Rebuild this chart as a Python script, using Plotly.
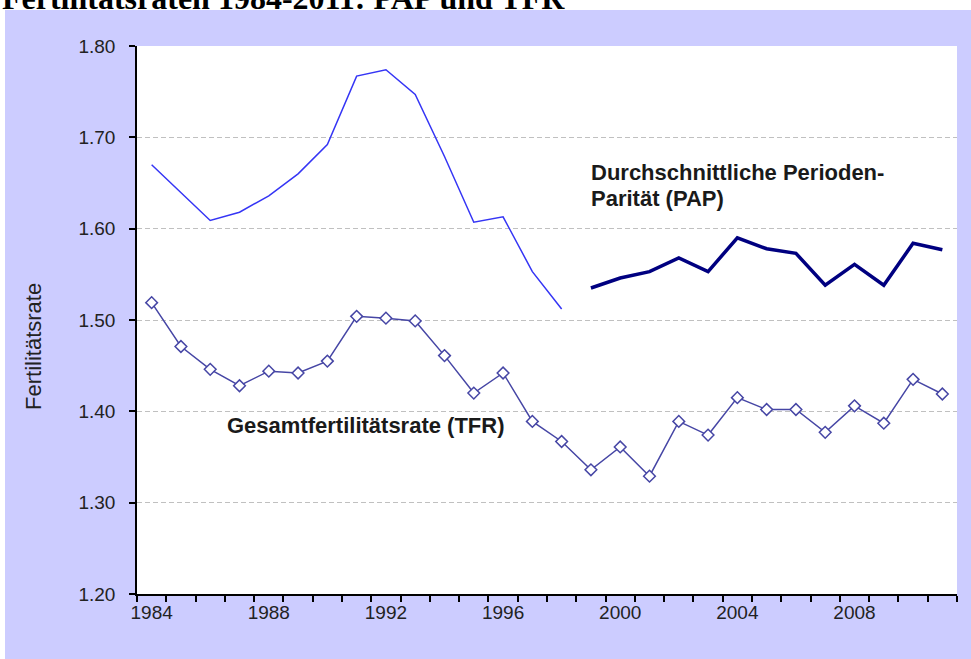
import plotly.graph_objects as go

# Werte
years = list(range(1984, 2012))
tfr = [1.519, 1.471, 1.446, 1.428, 1.444, 1.442, 1.455, 1.504, 1.502, 1.499,
       1.461, 1.420, 1.442, 1.389, 1.367, 1.336, 1.361, 1.329, 1.389, 1.374,
       1.415, 1.402, 1.402, 1.377, 1.406, 1.387, 1.435, 1.419]

upper_years = list(range(1984, 1999))
upper = [1.670, 1.639, 1.609, 1.618, 1.636, 1.660, 1.692, 1.767, 1.774, 1.747,
         1.679, 1.607, 1.613, 1.553, 1.512]

pap_years = list(range(1999, 2012))
pap = [1.535, 1.546, 1.553, 1.568, 1.553, 1.590, 1.578, 1.573, 1.538, 1.561,
       1.538, 1.584, 1.577]

label_years = [1984, 1988, 1992, 1996, 2000, 2004, 2008]
y_ticks = [1.2, 1.3, 1.4, 1.5, 1.6, 1.7, 1.8]

title = 'Fertilitätsraten 1984-2011: PAP und TFR'
tfr_label = 'Gesamtfertilitätsrate (TFR)'
pap_label_1 = 'Durchschnittliche Perioden-'
pap_label_2 = 'Parität (PAP)'

font = 'Arial, Liberation Sans, sans-serif'
lavender = '#CCCCFF'

fig = go.Figure()

fig.add_trace(go.Scatter(x=upper_years, y=upper, mode='lines',
                         line=dict(color='#3535F5', width=1.5), showlegend=False))
fig.add_trace(go.Scatter(x=pap_years, y=pap, mode='lines',
                         line=dict(color='#000080', width=3.5), showlegend=False))
fig.add_trace(go.Scatter(x=years, y=tfr, mode='lines+markers',
                         line=dict(color='#4646A5', width=1.5),
                         marker=dict(symbol='diamond', size=9, color='white',
                                     line=dict(color='#4646A5', width=1.5)),
                         showlegend=False))

fig.update_xaxes(range=[1983.5, 2011.5], tickvals=label_years,
                 ticktext=[str(y) for y in label_years], ticks='', ticklen=6,
                 minor=dict(tickmode='linear', tick0=1983.5, dtick=1, ticks='outside',
                            ticklen=6, tickcolor='black', tickwidth=1.5, showgrid=False),
                 showline=True, linecolor='black', linewidth=1.5, showgrid=False,
                 zeroline=False, tickfont=dict(family=font, size=19, color='#222222'))

fig.update_yaxes(range=[1.2, 1.8], tickvals=y_ticks, tickformat='.2f',
                 ticks='outside', ticklen=6, tickcolor='black', tickwidth=1.5,
                 ticklabelstandoff=10,
                 showline=True, linecolor='black', linewidth=1.5,
                 showgrid=True, gridcolor='#C0C0C0', gridwidth=1, griddash='5px,3px',
                 zeroline=False, tickfont=dict(family=font, size=19, color='#222222'))

label_font = dict(family=font, size=22, color='#1a1a1a', weight='bold')
fig.add_annotation(x=1986.5, y=1.384, xref='x', yref='y', text=tfr_label,
                   showarrow=False, xanchor='left', yanchor='middle', font=label_font)
fig.add_annotation(x=1998.93, y=1.661, xref='x', yref='y', text=pap_label_1,
                   showarrow=False, xanchor='left', yanchor='middle', font=label_font)
fig.add_annotation(x=1998.93, y=1.6335, xref='x', yref='y', text=pap_label_2,
                   showarrow=False, xanchor='left', yanchor='middle', font=label_font)

# Achsentitel
fig.add_annotation(x=-0.126, y=0.452, xref='paper', yref='paper', text='Fertilitätsrate',
                   showarrow=False, textangle=-90, xanchor='center', yanchor='middle',
                   font=dict(family=font, size=22, color='#222222'))

# abgeschnittene Überschrift oben
fig.add_annotation(x=-0.167, y=1.088, xref='paper', yref='paper', text='<b>' + title + '</b>',
                   showarrow=False, xanchor='left', yanchor='middle',
                   font=dict(family='Liberation Serif, Times New Roman, serif', size=32,
                             color='black'))

# weisser Rand oben und links
fig.add_shape(type='rect', xref='paper', yref='paper', x0=-0.2, x1=1.1,
              y0=(594 - 10) / 548, y1=1.2, fillcolor='white', line_width=0, layer='above')
fig.add_shape(type='rect', xref='paper', yref='paper', x0=-0.2, x1=(5 - 137) / 820,
              y0=-0.2, y1=1.2, fillcolor='white', line_width=0, layer='above')

fig.update_layout(width=971, height=659, margin=dict(l=137, r=14, t=46, b=65),
                  paper_bgcolor=lavender, plot_bgcolor='white')

fig.write_html('out.html', config={'displayModeBar': False},
               post_script="document.body.style.margin='0';")
